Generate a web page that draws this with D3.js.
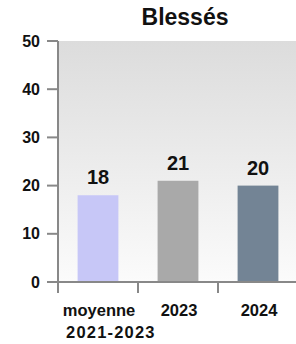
<!DOCTYPE html>
<html><head><meta charset="utf-8">
<script src="https://cdn.jsdelivr.net/npm/d3@7"></script>
<style>body{margin:0;background:#fff}svg{display:block}text{font-family:"Liberation Sans",Arial,sans-serif;font-weight:bold;fill:#111}</style>
</head><body>
<svg id="c" width="296" height="344"></svg>
<script>
const title = "Blessés";
const categories = [["moyenne","2021-2023"],["2023"],["2024"]];
const values = [18, 21, 20];
const colors = ["#c7c7f7", "#a9a9a9", "#738495"];
const yTicks = [0, 10, 20, 30, 40, 50];

const svg = d3.select("#c");
const W = 296, H = 344;
const x = d3.scaleBand().domain(d3.range(categories.length)).range([58, 298]).paddingInner(0.49).paddingOuter(0.245);
const y = d3.scaleLinear().domain([0, 50]).range([282, 41]);

const defs = svg.append("defs");
const g = defs.append("linearGradient").attr("id","bg").attr("x1",0).attr("y1",0).attr("x2",0).attr("y2",1);
g.append("stop").attr("offset","0%").attr("stop-color","#dcdcdc");
g.append("stop").attr("offset","100%").attr("stop-color","#fbfbfb");
svg.append("rect").attr("x",58).attr("y",y(50)).attr("width",W-58).attr("height",y(0)-y(50)).attr("fill","url(#bg)");

svg.selectAll("rect.bar").data(values).join("rect").attr("class","bar")
  .attr("x",(d,i)=>x(i)).attr("width",x.bandwidth())
  .attr("y",d=>y(d)).attr("height",d=>y(0)-y(d)).attr("fill",(d,i)=>colors[i]);

svg.selectAll("text.val").data(values).join("text").attr("class","val")
  .attr("x",(d,i)=>x(i)+x.bandwidth()/2).attr("y",d=>y(d)-11)
  .attr("text-anchor","middle").attr("font-size",20).text(d=>d);

// y axis
const ya = svg.append("g");
ya.append("line").attr("x1",58).attr("x2",58).attr("y1",y(50)).attr("y2",y(0)+11).attr("stroke","#888").attr("stroke-width",2);
ya.selectAll("line.t").data(yTicks).join("line").attr("class","t")
  .attr("x1",47).attr("x2",58).attr("y1",d=>y(d)).attr("y2",d=>y(d)).attr("stroke","#888").attr("stroke-width",2);
ya.selectAll("text").data(yTicks).join("text")
  .attr("x",40).attr("y",d=>y(d)+5.5).attr("text-anchor","end").attr("font-size",16).text(d=>d);

// x axis
const xa = svg.append("g");
xa.append("line").attr("x1",47).attr("x2",W).attr("y1",y(0)).attr("y2",y(0)).attr("stroke","#888").attr("stroke-width",2);
const bounds = [0,1,2].map(i=>x(i)-x.step()*x.paddingInner()/2);
xa.selectAll("line.t").data(bounds).join("line").attr("class","t")
  .attr("x1",d=>d).attr("x2",d=>d).attr("y1",y(0)).attr("y2",y(0)+11).attr("stroke","#888").attr("stroke-width",2);
categories.forEach((lines,i)=>{
  const cx = x(i)+x.bandwidth()/2;
  lines.forEach((s,j)=>{
    const t = xa.append("text").attr("font-size",16.5).attr("y",316+j*22).text(s);
    if (j===0) t.attr("text-anchor","middle").attr("x",cx+1);
    else t.attr("text-anchor","start").attr("x",cx-32).attr("letter-spacing",1.2);
  });
});

svg.append("text").attr("x",185).attr("y",25).attr("text-anchor","middle").attr("font-size",23).text(title);
</script>
</body></html>
